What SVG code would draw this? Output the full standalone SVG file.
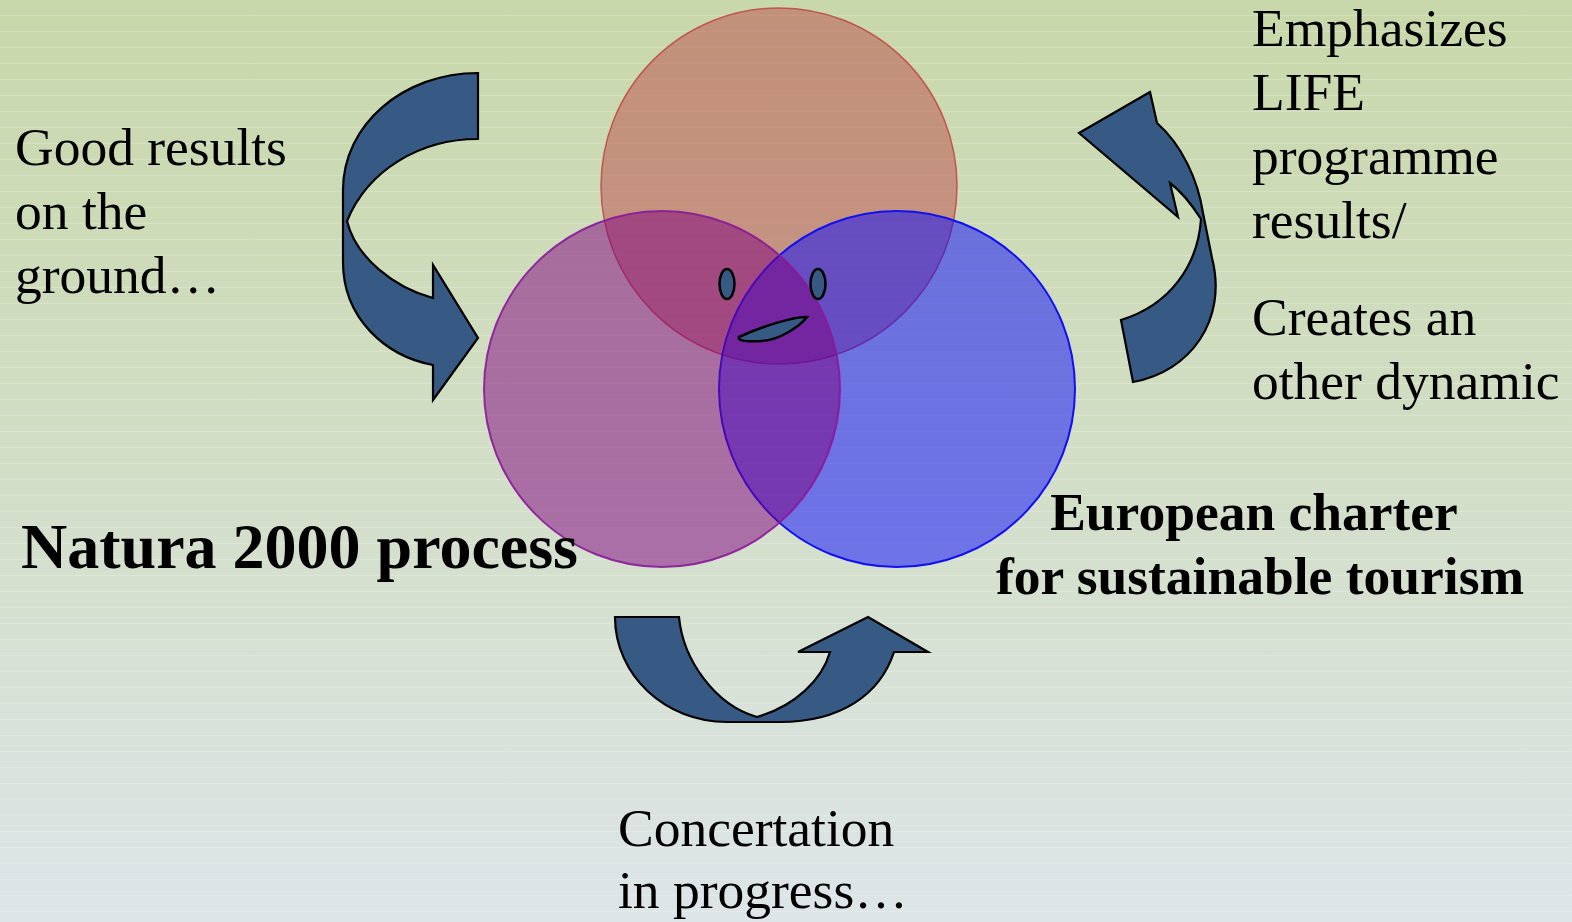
<svg xmlns="http://www.w3.org/2000/svg" width="1572" height="922" viewBox="0 0 1572 922">
  <defs>
    <linearGradient id="bg" x1="0" y1="0" x2="0" y2="1">
      <stop offset="0" stop-color="#c8d8aa"/>
      <stop offset="0.5" stop-color="#d2dec6"/>
      <stop offset="1" stop-color="#dde5e8"/>
    </linearGradient>
    <pattern id="stripes" x="0" y="0" width="1572" height="16" patternUnits="userSpaceOnUse">
      <rect x="0" y="15" width="1572" height="1" fill="#ffffff" fill-opacity="0.2"/>
    </pattern>
    <style>
      .txt { font-family: "Liberation Serif", "Times New Roman", serif; font-size: 53.5px; fill: #000; }
      .bold { font-weight: bold; }
      .arrow { fill: #375a84; stroke: #000; stroke-width: 2.2; stroke-linejoin: miter; }
      .face { fill: #375a84; stroke: #000; stroke-width: 2.5; }
    </style>
  </defs>

  <!-- background -->
  <rect width="1572" height="922" fill="url(#bg)"/>
  <rect width="1572" height="922" fill="url(#stripes)"/>

  <!-- three overlapping circles -->
  <g id="circle-top">
    <circle cx="779" cy="186" r="178" fill="#bb4948" fill-opacity="0.5" stroke="#c04444" stroke-opacity="0.85" stroke-width="1.5"/>
  </g>
  <g id="circle-right">
    <circle cx="897" cy="389" r="178" fill="#0808ff" fill-opacity="0.5" stroke="#1010f0" stroke-width="2"/>
  </g>
  <g id="circle-left">
    <circle cx="662" cy="389" r="178" fill="#800080" fill-opacity="0.5" stroke="#8a1a98" stroke-opacity="0.9" stroke-width="2"/>
  </g>

  <!-- smiley face in the centre -->
  <g id="face">
    <ellipse cx="727" cy="284" rx="7.5" ry="15" class="face"/>
    <ellipse cx="818" cy="284" rx="7.5" ry="15" class="face"/>
    <path class="face" d="M739,337 C760,327 795,316 807,317 C800,326 780,340 762,341 C748,342 737,341 739,337 Z"/>
  </g>

  <!-- curved arrows -->
  <g id="connectors">
    <path id="arrow-left" class="arrow" d="M478,73 C403,73 343,125 343,190 L343,262 C343,318 385,356 433,365 L433,400 L478,338 L433,265 L433,298 C395,288 356,258 347,221 C368,170 420,139 478,139 Z"/>
    <path id="arrow-right" class="arrow" d="M1079,133 L1150,92 L1157,123 C1182,145 1198,180 1203,213 L1212,258 C1228,320 1190,372 1133,382 L1121,320 C1170,305 1198,265 1201,219 C1192,205 1182,192 1170,183 L1178,217 Z"/>
    <path id="arrow-bottom" class="arrow" d="M615,617 L679,617 C683,660 715,705 757,717 C795,706 822,680 830,652 L798,652 L868,617 L928,652 L894,652 C880,695 840,722 780,722 L727,722 C665,722 615,675 615,617 Z"/>
  </g>

  <!-- labels -->
  <g id="label-good-results">
    <text class="txt" x="15" y="165">Good results</text>
    <text class="txt" x="15" y="229">on the</text>
    <text class="txt" x="15" y="293">ground…</text>
  </g>
  <g id="label-life">
    <text class="txt" x="1252" y="46">Emphasizes</text>
    <text class="txt" x="1252" y="110">LIFE</text>
    <text class="txt" x="1252" y="174">programme</text>
    <text class="txt" x="1252" y="238">results/</text>
    <text class="txt" x="1252" y="335">Creates an</text>
    <text class="txt" x="1252" y="399">other dynamic</text>
  </g>
  <g id="label-natura">
    <text class="txt bold" x="21" y="568" style="font-size:64px">Natura 2000 process</text>
  </g>
  <g id="label-charter">
    <text class="txt bold" x="1254" y="530" text-anchor="middle">European charter</text>
    <text class="txt bold" x="1260" y="594" text-anchor="middle">for sustainable tourism</text>
  </g>
  <g id="label-concertation">
    <text class="txt" x="618" y="846">Concertation</text>
    <text class="txt" x="618" y="908">in progress…</text>
  </g>
</svg>
